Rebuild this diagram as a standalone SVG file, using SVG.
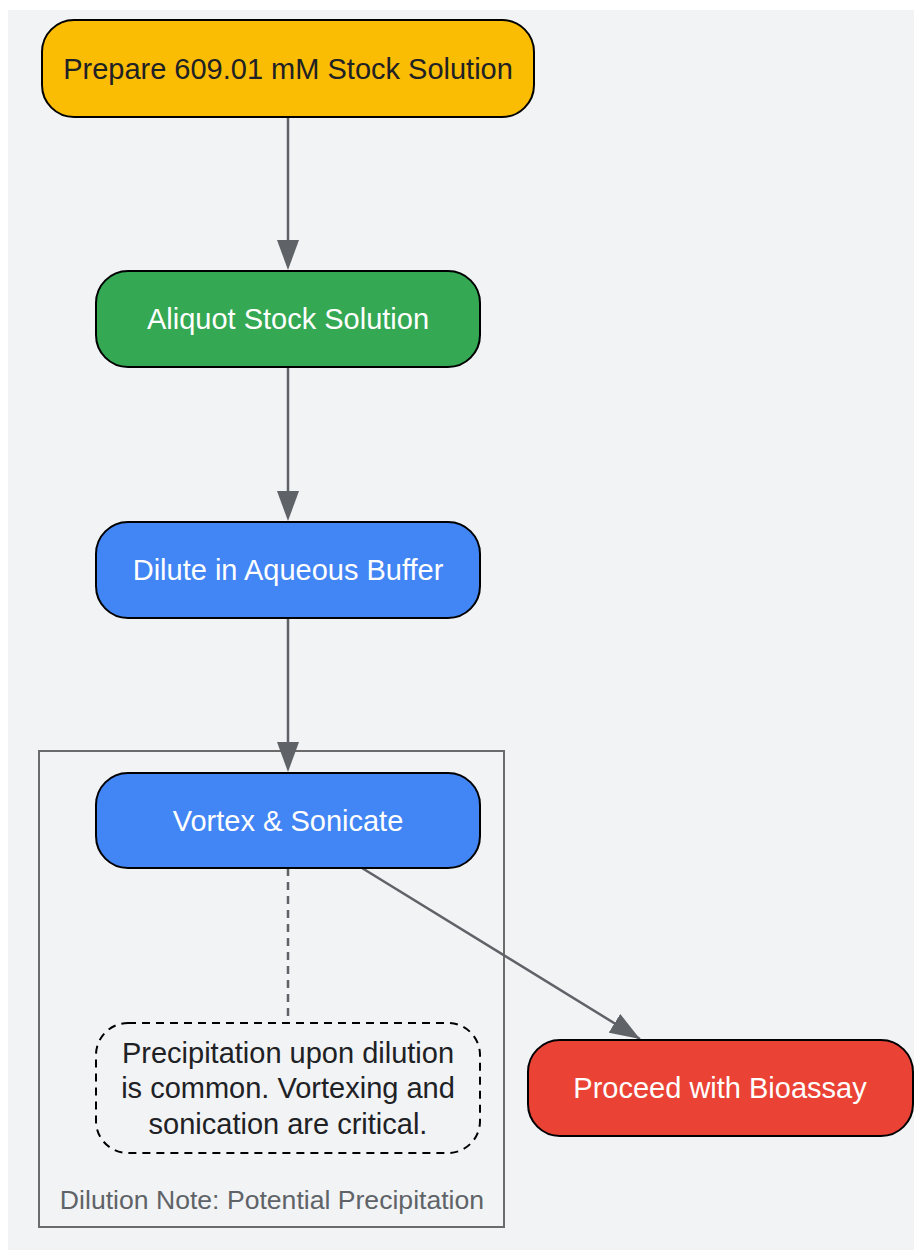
<svg xmlns="http://www.w3.org/2000/svg" width="914" height="1252" viewBox="0 0 914 1252">
<defs>
<style>
.node{stroke:#000;stroke-width:2}
.t{font-family:"Liberation Sans",Arial,sans-serif;font-size:29px;text-anchor:middle}
.w{fill:#fff}
.d{fill:#202124}
.e{stroke:#5f6368;stroke-width:2.5;fill:none}
</style>
<marker id="ah2" viewBox="0 0 30 22" refX="30" refY="11" markerWidth="30" markerHeight="22" markerUnits="userSpaceOnUse" orient="auto">
<path d="M0,0 L30,11 L0,22 Z" fill="#5f6368"/>
</marker>
</defs>
<rect x="8" y="10" width="906" height="1240" fill="#f1f3f5"/>
<g id="cluster">
<rect x="39" y="751" width="465" height="476" fill="none" stroke="#6b6b6b" stroke-width="2"/>
<text x="272" y="1209" class="t" style="font-size:26.6px" fill="#5f6368">Dilution Note: Potential Precipitation</text>
</g>
<g id="connectors">
<line class="e" x1="288" y1="117" x2="288" y2="240"/>
<path d="M277,240 L299,240 L288,270 Z" fill="#5f6368"/>
<line class="e" x1="288" y1="367" x2="288" y2="491"/>
<path d="M277,491 L299,491 L288,521 Z" fill="#5f6368"/>
<line class="e" x1="288" y1="618" x2="288" y2="742"/>
<path d="M277,742 L299,742 L288,772 Z" fill="#5f6368"/>
<line class="e" x1="288" y1="868" x2="288" y2="1023" stroke-dasharray="8,6"/>
<line class="e" x1="362" y1="868" x2="640" y2="1039" marker-end="url(#ah2)"/>
</g>
<g id="n1">
<rect class="node" x="42" y="20" width="492" height="97" rx="32" fill="#fbbc04"/>
<text class="t d" x="288" y="79">Prepare 609.01 mM Stock Solution</text>
</g>
<g id="n2">
<rect class="node" x="96" y="271" width="384" height="96" rx="32" fill="#34a853"/>
<text class="t w" x="288" y="329">Aliquot Stock Solution</text>
</g>
<g id="n3">
<rect class="node" x="96" y="522" width="384" height="96" rx="32" fill="#4285f4"/>
<text class="t w" x="288" y="580">Dilute in Aqueous Buffer</text>
</g>
<g id="n4">
<rect class="node" x="96" y="773" width="384" height="95" rx="32" fill="#4285f4"/>
<text class="t w" x="288" y="831">Vortex &amp; Sonicate</text>
</g>
<g id="n5">
<rect class="node" x="96" y="1023" width="384" height="130" rx="32" fill="#f1f3f5" stroke-dasharray="8,6"/>
<text class="t d" x="288" y="1063">Precipitation upon dilution</text>
<text class="t d" x="288" y="1098">is common. Vortexing and</text>
<text class="t d" x="288" y="1134">sonication are critical.</text>
</g>
<g id="n6">
<rect class="node" x="528" y="1040" width="385" height="96" rx="32" fill="#ea4335"/>
<text class="t w" x="720" y="1098">Proceed with Bioassay</text>
</g>
</svg>
